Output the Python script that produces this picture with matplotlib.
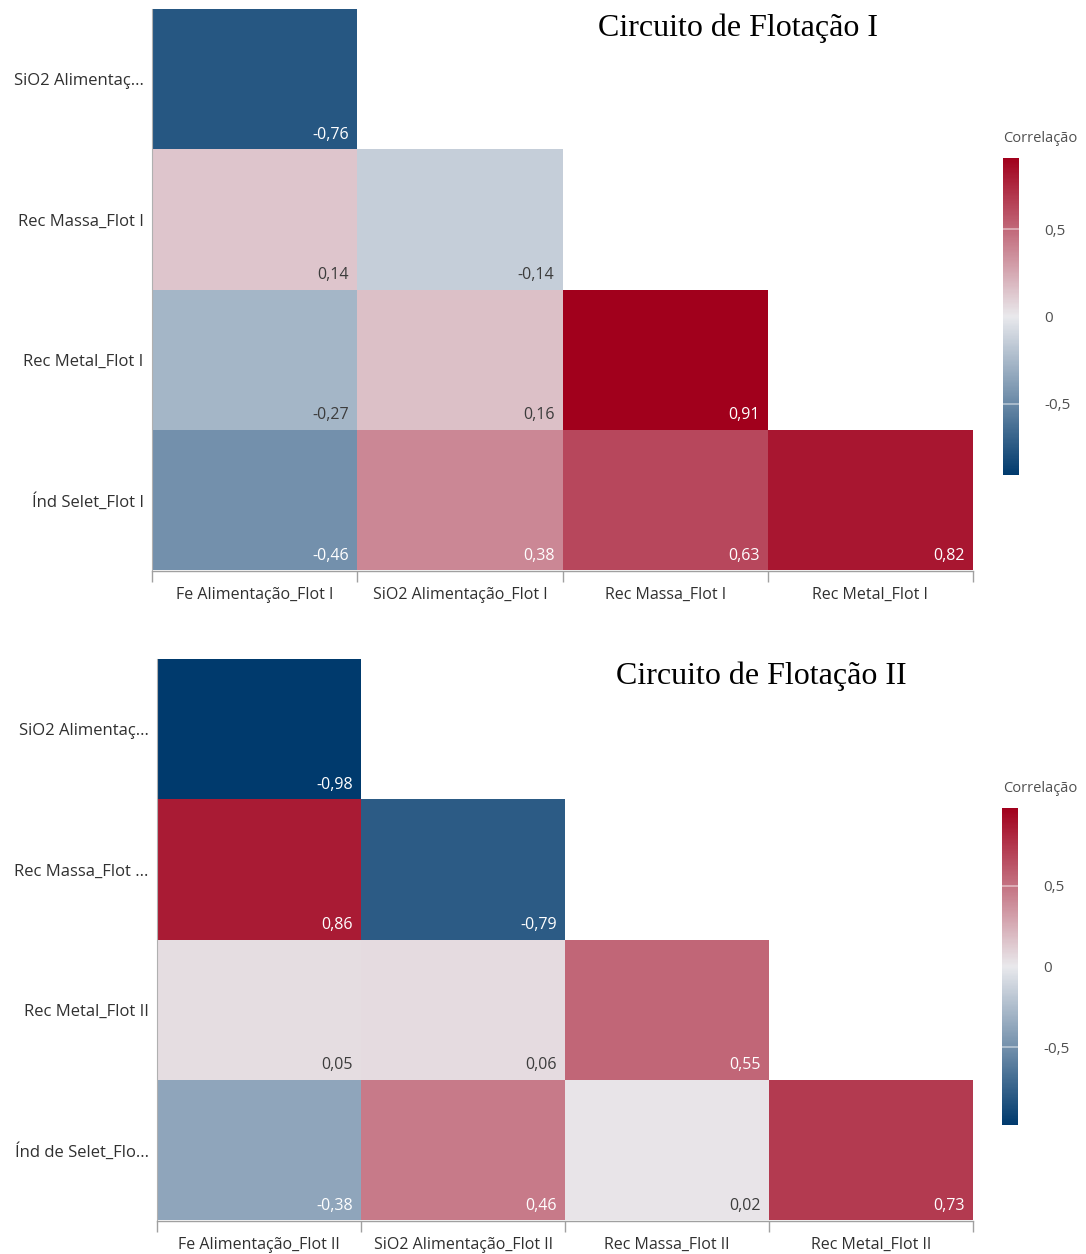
import numpy as np
import matplotlib
matplotlib.use("Agg")
import matplotlib.pyplot as plt
from matplotlib.colors import LinearSegmentedColormap, Normalize
from matplotlib.colorbar import ColorbarBase

plt.rcParams['font.family'] = ['Open Sans', 'DejaVu Sans']

# ---- data ----
cols_1 = ["Fe Alimentação_Flot I", "SiO2 Alimentação_Flot I", "Rec Massa_Flot I", "Rec Metal_Flot I"]
rows_1 = ["SiO2 Alimentaç...", "Rec Massa_Flot I", "Rec Metal_Flot I", "Índ Selet_Flot I"]
corr_1 = [
    [-0.76, None, None, None],
    [0.14, -0.14, None, None],
    [-0.27, 0.16, 0.91, None],
    [-0.46, 0.38, 0.63, 0.82],
]
title_1 = "Circuito de Flotação I"

cols_2 = ["Fe Alimentação_Flot II", "SiO2 Alimentação_Flot II", "Rec Massa_Flot II", "Rec Metal_Flot II"]
rows_2 = ["SiO2 Alimentaç...", "Rec Massa_Flot ...", "Rec Metal_Flot II", "Índ de Selet_Flo..."]
corr_2 = [
    [-0.98, None, None, None],
    [0.86, -0.79, None, None],
    [0.05, 0.06, 0.55, None],
    [-0.38, 0.46, 0.02, 0.73],
]
title_2 = "Circuito de Flotação II"

cbar_label = "Correlação"
cbar_ticks = [-0.5, 0, 0.5]

cmap = LinearSegmentedColormap.from_list(
    "corr", ["#003a6d", "#e9e9ec", "#a1001c"])

W, H = 1086, 1254
fig = plt.figure(figsize=(W / 100, H / 100), dpi=100)


def fmt_cell(v):
    return f"{v:.2f}".replace(".", ",")


def fmt_tick(v):
    return f"{v:g}".replace(".", ",")


def panel(box, cbox, rows, cols, corr, title, title_xy):
    left, top, right, bottom = box
    ax = fig.add_axes([left / W, 1 - bottom / H, (right - left) / W, (bottom - top) / H])
    m = np.array([[np.nan if v is None else v for v in r] for r in corr], dtype=float)
    vmax = np.nanmax(np.abs(m))
    norm = Normalize(-vmax, vmax)
    masked = np.ma.masked_invalid(m)
    ax.pcolormesh(np.arange(len(cols) + 1), np.arange(len(rows) + 1), masked,
                  cmap=cmap, norm=norm, edgecolors="none")
    ax.set_xlim(0, len(cols))
    ax.set_ylim(len(rows), 0)

    # value labels at the lower-right corner of each cell
    for i in range(len(rows)):
        for j in range(len(cols)):
            v = m[i, j]
            if np.isnan(v):
                continue
            color = "white" if abs(v) > 0.35 else "#3c3c3c"
            ax.text(j + 1 - 0.04, i + 1 - 0.045, fmt_cell(v), ha="right", va="bottom",
                    fontsize=11.5, color=color)

    for s in ("top", "right"):
        ax.spines[s].set_visible(False)
    ax.spines["bottom"].set_color("#a0a0a0")
    ax.spines["bottom"].set_linewidth(1.0)
    ax.spines["left"].set_color("#b0b0b0")
    ax.spines["left"].set_linewidth(0.8)
    ax.spines["bottom"].set_position(("outward", 1))

    ax.set_xticks(np.arange(len(cols)) + 0.5)
    ax.set_xticklabels(cols, fontsize=11.5, color="#303030")
    ax.set_xticks(np.arange(len(cols) + 1), minor=True)
    ax.tick_params(axis="x", which="major", length=0, pad=11)
    ax.tick_params(axis="x", which="minor", length=8, color="#a0a0a0", width=1)
    ax.set_yticks(np.arange(len(rows)) + 0.5)
    ax.set_yticklabels(rows, fontsize=12, color="#303030")
    ax.tick_params(axis="y", length=0, pad=6)

    fig.text(title_xy[0] / W, 1 - title_xy[1] / H, title, ha="center", va="center",
             fontsize=23, family="Liberation Serif", color="black")

    # colour scale
    cl, ct, cr, cb = cbox
    cax = fig.add_axes([cl / W, 1 - cb / H, (cr - cl) / W, (cb - ct) / H])
    cbar = ColorbarBase(cax, cmap=cmap, norm=norm, orientation="vertical")
    cbar.outline.set_visible(False)
    cbar.set_ticks(cbar_ticks)
    cbar.set_ticklabels([fmt_tick(t) for t in cbar_ticks])
    cax.tick_params(length=0, pad=18, labelsize=11, labelcolor="#505050")
    for t in (-0.5, 0.5):
        cax.axhline(t, color="white", alpha=0.5, lw=1.2)
    fig.text(1040 / W, 1 - (ct - 19) / H, cbar_label,
             ha="center", va="center", fontsize=10.5, color="#505050")
    return ax


panel((152, 9, 973, 570), (1003, 158, 1019, 475), rows_1, cols_1, corr_1, title_1, (738, 28))
panel((157, 659, 973, 1220), (1002, 808, 1018, 1125), rows_2, cols_2, corr_2, title_2, (761, 676))

fig.savefig("out.png", dpi=100, facecolor="white")
